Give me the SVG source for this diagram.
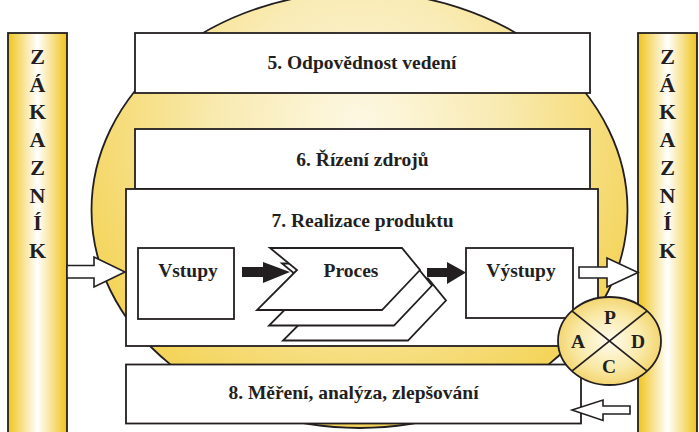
<svg xmlns="http://www.w3.org/2000/svg" width="699" height="432" viewBox="0 0 699 432">
<defs>
<linearGradient id="colGrad" x1="0" y1="0" x2="1" y2="0">
<stop offset="0" stop-color="#f0c41c"/>
<stop offset="0.5" stop-color="#ffffff"/>
<stop offset="1" stop-color="#f0c41c"/>
</linearGradient>
<radialGradient id="bgGrad" gradientUnits="userSpaceOnUse" cx="360" cy="125" r="300">
<stop offset="0" stop-color="#fdf8e4"/>
<stop offset="0.45" stop-color="#f9ebb4"/>
<stop offset="1" stop-color="#f4d45a"/>
</radialGradient>
<radialGradient id="pdcaGrad" cx="0.5" cy="0.5" r="0.55">
<stop offset="0" stop-color="#fffbee"/>
<stop offset="0.6" stop-color="#f9e9a6"/>
<stop offset="1" stop-color="#f2d062"/>
</radialGradient>
<style>
.ln{stroke:#231f20;stroke-width:1.8;}
.box{fill:#ffffff;stroke:#231f20;stroke-width:1.8;}
.t{font-weight:bold;fill:#231f20;}
.big{font-size:19.5px;text-anchor:middle;}
.col{font-size:22px;text-anchor:middle;}
.blk{fill:#231f20;stroke:none;}
.wa{fill:#ffffff;stroke:#231f20;stroke-width:1.6;stroke-linejoin:miter;}
</style>
</defs>

<g font-family="'Liberation Serif', 'Times New Roman', 'DejaVu Serif', serif">
<g id="zakaznik-left">
<rect x="8" y="33" width="59" height="410" fill="url(#colGrad)" class="ln"/>
<text class="t col" x="37.5" y="64">Z</text>
<text class="t col" x="37.5" y="91.7">Á</text>
<text class="t col" x="37.5" y="119.4">K</text>
<text class="t col" x="37.5" y="147.1">A</text>
<text class="t col" x="37.5" y="174.8">Z</text>
<text class="t col" x="37.5" y="202.5">N</text>
<text class="t col" x="37.5" y="230.2">Í</text>
<text class="t col" x="37.5" y="257.9">K</text>
</g>

<g id="zakaznik-right">
<rect x="638" y="33" width="59" height="410" fill="url(#colGrad)" class="ln"/>
<text class="t col" x="667.5" y="64">Z</text>
<text class="t col" x="667.5" y="91.7">Á</text>
<text class="t col" x="667.5" y="119.4">K</text>
<text class="t col" x="667.5" y="147.1">A</text>
<text class="t col" x="667.5" y="174.8">Z</text>
<text class="t col" x="667.5" y="202.5">N</text>
<text class="t col" x="667.5" y="230.2">Í</text>
<text class="t col" x="667.5" y="257.9">K</text>
</g>

<g id="background-circle">
<ellipse cx="359.5" cy="210" rx="268" ry="218" fill="url(#bgGrad)" class="ln"/>
</g>

<g id="box5">
<rect x="135" y="33" width="455" height="60" class="box"/>
<text class="t big" x="362" y="69">5. Odpovědnost vedení</text>
</g>

<g id="box6">
<rect x="135" y="129" width="455" height="60" class="box"/>
<text class="t big" x="362.5" y="165.5">6. Řízení zdrojů</text>
</g>

<g id="box7">
<rect x="126" y="189" width="472" height="157" class="box"/>
<text class="t big" x="362.5" y="227">7. Realizace produktu</text>
</g>

<g id="box8">
<rect x="126" y="364.5" width="455" height="59" class="box"/>
<text class="t big" x="353.5" y="399">8. Měření, analýza, zlepšování</text>
</g>

<g id="vstupy">
<rect x="138" y="248" width="96" height="71" class="box"/>
<text class="t big" x="188" y="277">Vstupy</text>
</g>

<g id="proces">
<polygon points="296,278.5 428,278.5 446,300.5 408,340.5 283,340.5 323,300.5" class="box"/>
<polygon points="282,263.5 414,263.5 432,285.5 394,325.5 269,325.5 309,285.5" class="box"/>
<polygon points="270,248 402,248 420,270 382,310 257,310 297,270" class="box"/>
<text class="t big" x="351" y="277">Proces</text>
</g>

<g id="vystupy">
<rect x="466" y="248" width="107" height="70" class="box"/>
<text class="t big" x="521" y="277">Výstupy</text>
</g>

<g id="connectors">
<polygon class="blk" points="242,267 263,267 263,262 290,272 263,283 263,277 242,277"/>
<polygon class="blk" points="427,268 447,268 447,262 466,272.5 447,284 447,277 427,277"/>
<polygon class="wa" points="67,265.5 94,265.5 94,257 125,272 94,287 94,278 67,278"/>
<polygon class="wa" points="579,267 607,267 607,258 638,272.5 607,287 607,278 579,278"/>
<polygon class="wa" points="630,406 603,406 603,400 572,410 603,420.5 603,414 630,414"/>
</g>

<g id="pdca">
<ellipse cx="609.5" cy="341" rx="51.5" ry="44" fill="url(#pdcaGrad)" class="ln"/>
<line x1="572.2" y1="311.1" x2="646.8" y2="370.9" class="ln"/>
<line x1="646.8" y1="311.1" x2="572.2" y2="370.9" class="ln"/>
<text class="t" font-size="19.5" text-anchor="middle" x="610" y="324">P</text>
<text class="t" font-size="19.5" text-anchor="middle" x="638" y="348">D</text>
<text class="t" font-size="19.5" text-anchor="middle" x="609" y="373">C</text>
<text class="t" font-size="19.5" text-anchor="middle" x="578" y="348">A</text>
</g>
</g>
</svg>
